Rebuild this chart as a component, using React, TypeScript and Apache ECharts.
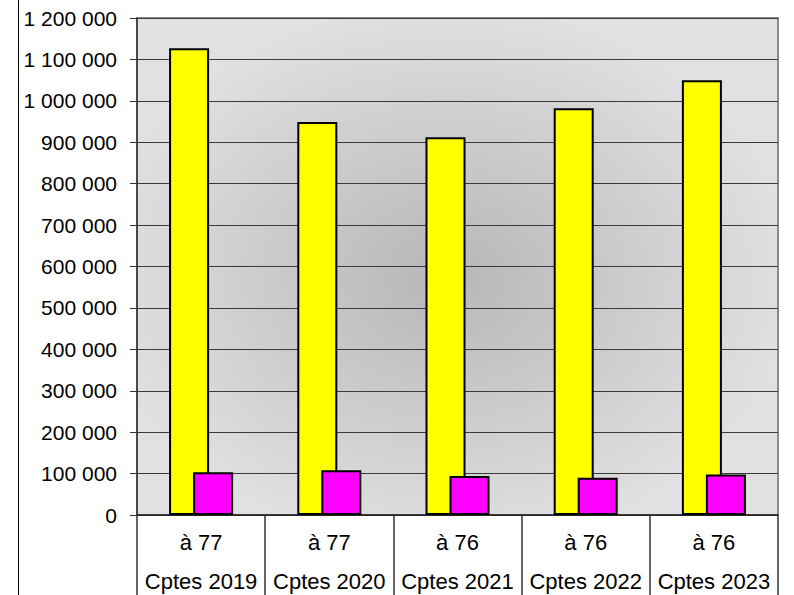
import React, { useEffect, useRef } from "react";
import * as echarts from "echarts";

const categories = ["Cptes 2019", "Cptes 2020", "Cptes 2021", "Cptes 2022", "Cptes 2023"];
const subLabels = ["à 77", "à 77", "à 76", "à 76", "à 76"];
const yellowValues = [1127000, 949000, 912000, 982000, 1050000];
const magentaValues = [103000, 108000, 94000, 90000, 98000];

function fmt(v: number): string {
  return String(v).replace(/\B(?=(\d{3})+(?!\d))/g, " ");
}

export default function App() {
  const ref = useRef<HTMLDivElement>(null);
  useEffect(() => {
    if (!ref.current) return;
    const chart = echarts.init(ref.current, undefined, { renderer: "svg" });
    chart.setOption({
      animation: false,
      textStyle: { fontFamily: "Liberation Sans, Arial, sans-serif" },
      grid: {
        left: 137,
        right: 16,
        top: 18,
        bottom: 80,
        show: true,
        borderColor: "#8a8a8a",
        borderWidth: 2,
        backgroundColor: {
          type: "radial",
          x: 0.48,
          y: 0.52,
          r: 0.55,
          colorStops: [
            { offset: 0, color: "#b6b6b6" },
            { offset: 1, color: "#e1e1e1" },
          ],
        },
      },
      xAxis: {
        type: "category",
        data: categories,
        axisLine: { show: true, lineStyle: { color: "#222", width: 1.5 } },
        axisTick: { show: true, length: 80, interval: 0, lineStyle: { color: "#333", width: 1.5 } },
        axisLabel: {
          interval: 0,
          margin: 8,
          formatter: (v: string, i: number) => `{a|${subLabels[i]}}\n{b|${v}}`,
          rich: {
            a: { fontSize: 22, lineHeight: 39, color: "#000", fontFamily: "Liberation Sans, Arial, sans-serif" },
            b: { fontSize: 22, lineHeight: 39, color: "#000", fontFamily: "Liberation Sans, Arial, sans-serif" },
          },
        },
        splitLine: { show: false },
      },
      yAxis: {
        type: "value",
        min: 0,
        max: 1200000,
        interval: 100000,
        axisLine: { show: true, lineStyle: { color: "#333", width: 1.5 } },
        axisTick: { show: true, length: 7, lineStyle: { color: "#333" } },
        axisLabel: {
          margin: 20,
          fontSize: 21,
          color: "#000",
          formatter: (v: number) => fmt(v),
        },
        splitLine: { show: true, lineStyle: { color: "#3a3a3a", width: 1 } },
      },
      series: [
        {
          type: "bar",
          data: yellowValues,
          barWidth: 40,
          barGap: "-40%",
          itemStyle: { color: "#ffff00", borderColor: "#000", borderWidth: 2 },
        },
        {
          type: "bar",
          data: magentaValues,
          barWidth: 40,
          itemStyle: { color: "#ff00ff", borderColor: "#000", borderWidth: 2 },
        },
      ],
      graphic: [
        {
          type: "line",
          shape: { x1: 18.5, y1: 0, x2: 18.5, y2: 595 },
          style: { stroke: "#000", lineWidth: 1 },
        },
      ],
    });
    return () => chart.dispose();
  }, []);
  return (
    <div
      ref={ref}
      style={{ position: "absolute", left: 0, top: 0, width: 794, height: 595 }}
    />
  );
}
